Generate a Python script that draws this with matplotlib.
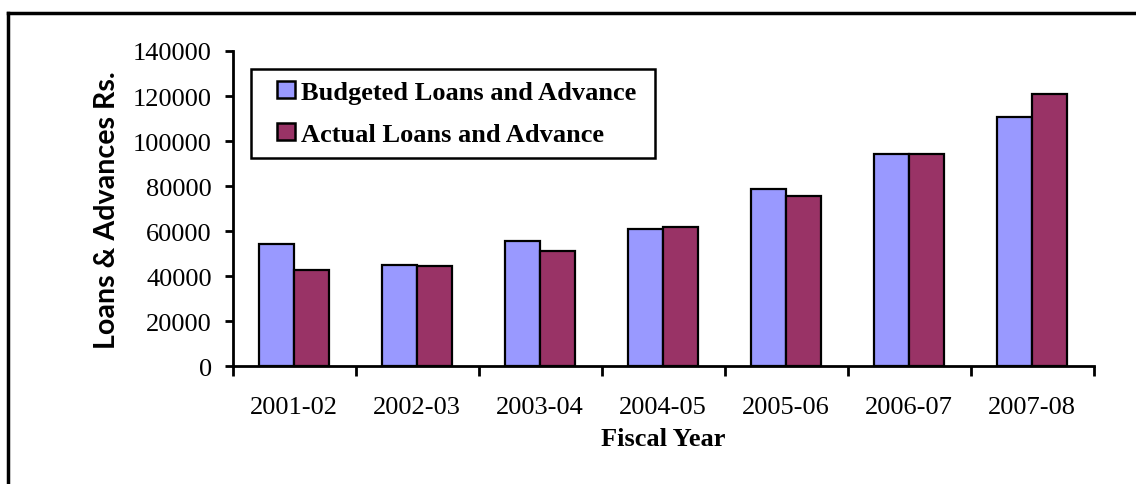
import numpy as np
import matplotlib
matplotlib.use("Agg")
import matplotlib.pyplot as plt
from matplotlib.lines import Line2D
from matplotlib.patches import Rectangle
from matplotlib.container import BarContainer
from matplotlib.legend_handler import HandlerPatch

# ---------- DATA ----------
years = ['2001-02', '2002-03', '2003-04', '2004-05', '2005-06', '2006-07', '2007-08']
budgeted = [54500, 44900, 55700, 60800, 78900, 94200, 110700]
actual = [42700, 44500, 51100, 61900, 75600, 94300, 120900]

# ---------- PLOT ----------
plt.rcParams['font.family'] = 'Liberation Serif'
fig = plt.figure(figsize=(11.36, 4.85), dpi=100)
ax = fig.add_axes([0.2048, 0.2423, 0.9626 - 0.2048, 0.8928 - 0.2423])

x = np.arange(len(years))
w = 0.285
ax.bar(x - w / 2, budgeted, w, color='#9999FF', edgecolor='black', linewidth=1.6,
       label='Budgeted Loans and Advance', zorder=3)
ax.bar(x + w / 2, actual, w, color='#993366', edgecolor='black', linewidth=1.6,
       label='Actual Loans and Advance', zorder=3)

ax.set_xlim(-0.5, len(years) - 0.5)
ax.set_ylim(0, 140000)
ax.set_yticks(range(0, 140001, 20000))
ax.tick_params(axis='y', direction='out', length=6, width=2, labelsize=19, pad=9)

# category labels at the centres, tick marks on the boundaries
ax.set_xticks(x)
ax.set_xticklabels(years)
ax.tick_params(axis='x', which='major', length=0, labelsize=19, pad=21)
ax.set_xticks(np.arange(-0.5, len(years)), minor=True)
ax.tick_params(axis='x', which='minor', direction='out', length=7, width=2)

for side in ['top', 'right']:
    ax.spines[side].set_visible(False)
for side in ['left', 'bottom']:
    ax.spines[side].set_linewidth(2)

ax.set_xlabel('Fiscal Year', fontsize=19, fontweight='bold', labelpad=7)
ax.set_ylabel('Loans & Advances Rs.', fontsize=20.6, fontweight='bold',
              family='Lato', labelpad=9)


# small square key drawn at the right end of the handle box
def square_key(legend, orig_handle, xdescent, ydescent, width, height, fontsize):
    s = height * 1.05
    return Rectangle((width - s - xdescent, -ydescent - 0.025 * height), s, s)


def copy_bar_style(legend_handle, orig_handle):
    legend_handle.update_from(orig_handle[0])
    legend_handle.set_linewidth(1.8)


leg = ax.legend(loc='upper left', bbox_to_anchor=(0.0213, 0.943 - 0.27, 0.4693, 0.27),
                mode='expand', borderaxespad=0,
                prop={'family': 'Liberation Serif', 'weight': 'bold', 'size': 19},
                handlelength=1.2, handleheight=0.6, handletextpad=0.25,
                labelspacing=0.72, borderpad=0.45, fancybox=False, framealpha=1,
                handler_map={BarContainer: HandlerPatch(patch_func=square_key,
                                                        update_func=copy_bar_style)})
leg.get_frame().set_edgecolor('black')
leg.get_frame().set_linewidth(1.8)

# outer chart border (only the left and top edges fall inside the image)
fig.add_artist(Line2D([8 / 1136, 8 / 1136], [0, 1 - 14 / 485], color='black', lw=2.5))
fig.add_artist(Line2D([8 / 1136, 1], [1 - 14 / 485, 1 - 14 / 485], color='black', lw=2.5))

fig.savefig('out.png', dpi=100)
